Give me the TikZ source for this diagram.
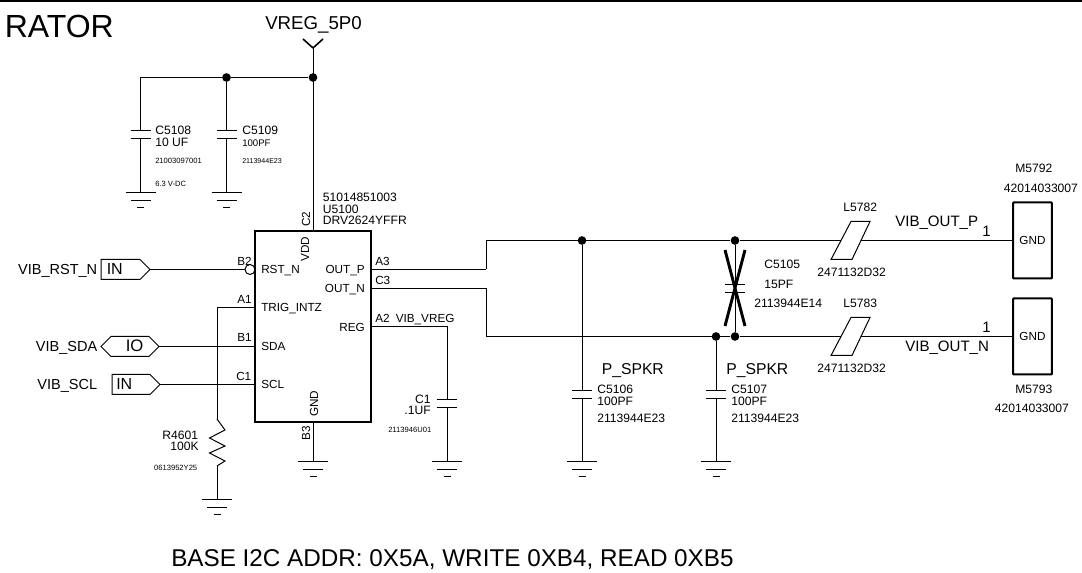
\documentclass[tikz,border=0pt]{standalone}
\usepackage{fontspec}
\setmainfont{Liberation Sans}
\usetikzlibrary{shapes.symbols}

\tikzset{
    x=0.75pt, y=-0.75pt,
    wire/.style={line width=0.75pt},
    lbl/.style={inner sep=0, anchor=base west, font=\fontsize{9.1}{10}\selectfont},
    lblr/.style={inner sep=0, anchor=base east, font=\fontsize{9.1}{10}\selectfont},
    pinlbl/.style={lbl, font=\fontsize{8.8}{10}\selectfont},
    tinylbl/.style={lbl, font=\fontsize{5.7}{7}\selectfont},
    netlbl/.style={lblr, font=\fontsize{10.9}{12}\selectfont},
    port/.style={draw, wire, shape=signal, signal from=nowhere, signal to=east, signal pointer angle=90,
        inner sep=0, outer sep=0, minimum height=15pt, anchor=east},
    junct/.style={circle, fill=black, inner sep=0, minimum size=6.5pt},
    conn/.style={draw, line width=1.5pt, rectangle, rounded corners=0.5pt, inner sep=0, outer sep=0,
        minimum width=29pt, minimum height=57pt, font=\fontsize{8.8}{10}\selectfont},
    capsym/.pic={
        \draw[wire] (-10,0) -- (10,0) (-10,8) -- (10,8);
        \coordinate (-t) at (0,0);
        \coordinate (-b) at (0,8);
    },
    gndsym/.pic={
        \draw[wire] (-15,0) -- (15,0) (-10,8) -- (10,8) (-3.5,15) -- (3.5,15);
        \coordinate (-t) at (0,0);
    },
    ressym/.pic={
        \draw[wire] (0,0) -- (8,11) -- (-7.5,19) -- (8,27) -- (-7.5,34) -- (8,42) -- (0,47);
        \coordinate (-t) at (0,0);
        \coordinate (-b) at (0,47);
    },
    indsym/.pic={
        \draw[wire] (-20,19) -- (0,-19) -- (19,-19) -- (1,19) -- cycle;
        \coordinate (-w) at (-10,0);
        \coordinate (-e) at (10,0);
    },
    dnpsym/.pic={
        \draw[line width=2.2pt] (-10,-38) -- (10,38) (10,-38) -- (-10,38);
    },
}

\begin{document}
\begin{tikzpicture}
    \useasboundingbox (0,0) rectangle (1082,573);

    % frame and headings
    \coordinate (frameL) at (0,0.8);
    \coordinate (frameR) at (1082,0.8);
    \draw[line width=1.2pt] (frameL) -- (frameR);
    \node[lbl, font=\fontsize{24}{26}\selectfont] (title) at (4.5,38) {RATOR};
    \node[lbl, font=\fontsize{18.2}{20}\selectfont] (addr) at (171,566) {BASE I2C ADDR: 0X5A, WRITE 0XB4, READ 0XB5};

    % driver
    \node[draw, line width=1.5pt, rectangle, inner sep=0, minimum width=87pt, minimum height=143.25pt] (u5100) at (313,326.5) {};
    \node[lbl] (u5100pn) at (322.5,202) {51014851003};
    \node[lbl] (u5100ref) at (322.5,214) {U5100};
    \node[lbl] (u5100val) at (322.5,225) {DRV2624YFFR};
    \node[pinlbl, rotate=90] (pinC2) at (310,227) {C2};
    \node[pinlbl, rotate=90] (nameVDD) at (309,262) {VDD};
    \node[pinlbl, rotate=90] (nameGND) at (318,417) {GND};
    \node[pinlbl, rotate=90] (pinB3) at (310,441) {B3};
    \node[pinlbl] (pinB2) at (237,266) {B2};
    \node[pinlbl] (pinA1) at (237,304) {A1};
    \node[pinlbl] (pinB1) at (237,342) {B1};
    \node[pinlbl] (pinC1) at (236,381) {C1};
    \node[pinlbl] (nameRST) at (261,274) {RST\_N};
    \node[pinlbl] (nameTRIG) at (261,312) {TRIG\_INTZ};
    \node[pinlbl] (nameSDA) at (261,351) {SDA};
    \node[pinlbl] (nameSCL) at (261,389) {SCL};
    \node[pinlbl, anchor=base east] (nameOUTP) at (365,274) {OUT\_P};
    \node[pinlbl, anchor=base east] (nameOUTN) at (365,293) {OUT\_N};
    \node[pinlbl, anchor=base east] (nameREG) at (365,332) {REG};
    \node[pinlbl] (pinA3) at (375,266) {A3};
    \node[pinlbl] (pinC3) at (375,285) {C3};
    \node[pinlbl] (pinA2) at (375,323) {A2};
    \node[pinlbl] (vibvreg) at (395.5,323) {VIB\_VREG};

    % supply
    \coordinate (vregtip) at (313,48);
    \coordinate (vregL) at (303,39);
    \coordinate (vregR) at (323,39);
    \node[lbl, font=\fontsize{14}{16}\selectfont] (vreg) at (265,30) {VREG\_5P0};
    \node[junct] (j0) at (313,77.5) {};
    \node[junct] (j1) at (226.5,77.5) {};
    \coordinate (c0) at (140.5,77.5);
    \coordinate (vddpin) at (313,231);
    \coordinate (gndpin) at (313,422);

    \pic (c5108) at (140.5,130.5) {capsym};
    \pic (c5109) at (226.5,130.5) {capsym};
    \pic (g1) at (140.5,192.5) {gndsym};
    \pic (g2) at (226.5,192.5) {gndsym};
    \pic (g3) at (313,461.5) {gndsym};
    \node[lbl] (c5108ref) at (155,135) {C5108};
    \node[lbl] (c5108val) at (155,147) {10 UF};
    \node[tinylbl] (c5108pn) at (155,164) {21003097001};
    \node[tinylbl] (c5108v) at (155,187) {6.3 V-DC};
    \node[lbl] (c5109ref) at (242,135) {C5109};
    \node[lbl, font=\fontsize{7.2}{8}\selectfont] (c5109val) at (242,147) {100PF};
    \node[tinylbl, font=\fontsize{5.3}{7}\selectfont] (c5109pn) at (242,164) {2113944E23};

    % inputs
    \node[port, minimum width=36.75pt] (rstport) at (150,269.5) {};
    \node[port, minimum width=43.5pt, signal to=east and west] (sdaport) at (159,346.5) {};
    \node[port, minimum width=36pt] (sclport) at (160,384.5) {};
    \node[lbl, font=\fontsize{12}{13}\selectfont] (rstdir) at (106.5,275) {IN};
    \node[lbl, font=\fontsize{12.5}{13}\selectfont] (sdadir) at (125.5,352) {IO};
    \node[lbl, font=\fontsize{12}{13}\selectfont] (scldir) at (116,390) {IN};
    \node[netlbl] (rstnet) at (97.5,275) {VIB\_RST\_N};
    \node[netlbl] (sdanet) at (97.5,352) {VIB\_SDA};
    \node[netlbl] (sclnet) at (97.5,390) {VIB\_SCL};
    \node[draw, wire, circle, inner sep=0, outer sep=0, minimum size=7.5pt] (rstbub) at (250,269.5) {};
    \coordinate (sdapin) at (255,346.5);
    \coordinate (sclpin) at (255,384.5);
    \coordinate (trigpin) at (255,307.5);
    \coordinate (trigc) at (217,307.5);

    \pic (r4601) at (217,419) {ressym};
    \pic (g4) at (217,499.5) {gndsym};
    \node[lblr] (r4601ref) at (198.5,440) {R4601};
    \node[lblr] (r4601val) at (199,451) {100K};
    \node[tinylbl, anchor=base east] (r4601pn) at (197.5,470) {0613952Y25};

    % regulator cap
    \coordinate (regpin) at (371,326.5);
    \coordinate (regc) at (447,326.5);
    \pic (c1) at (447,399.5) {capsym};
    \pic (g5) at (447,461.5) {gndsym};
    \node[lblr] (c1ref) at (431,404) {C1};
    \node[lblr] (c1val) at (431,415) {.1UF};
    \node[tinylbl, anchor=base east] (c1pn) at (431.5,433) {2113946U01};

    % output filter
    \coordinate (outp) at (371,269.5);
    \coordinate (outn) at (371,288.5);
    \coordinate (outpa) at (486,269.5);
    \coordinate (outna) at (486,288.5);
    \coordinate (outpb) at (486,240.5);
    \coordinate (outnb) at (486,336.5);
    \node[junct] (j2) at (582,240.5) {};
    \node[junct] (j3) at (735,240.5) {};
    \node[junct] (j4) at (716,336.5) {};
    \node[junct] (j5) at (735,336.5) {};

    \pic (c5105) at (735,284.5) {capsym};
    \pic at (735,288) {dnpsym};
    \pic (c5106) at (582,390.5) {capsym};
    \pic (c5107) at (716,390.5) {capsym};
    \pic (g6) at (582,461.5) {gndsym};
    \pic (g7) at (716,461.5) {gndsym};
    \node[lbl, font=\fontsize{11.8}{13}\selectfont] (spkr0) at (601.5,375) {P\_SPKR};
    \node[lbl, font=\fontsize{11.8}{13}\selectfont] (spkr1) at (726,375) {P\_SPKR};
    \node[lbl] (c5106ref) at (597,394) {C5106};
    \node[lbl] (c5106val) at (597,406) {100PF};
    \node[lbl] (c5106pn) at (597,423) {2113944E23};
    \node[lbl] (c5107ref) at (731,394) {C5107};
    \node[lbl] (c5107val) at (731,406) {100PF};
    \node[lbl] (c5107pn) at (731,423) {2113944E23};
    \node[lbl] (c5105ref) at (764,269) {C5105};
    \node[lbl] (c5105val) at (764,289) {15PF};
    \node[lbl] (c5105pn) at (754,308) {2113944E14};

    \pic (l5782) at (851,240.5) {indsym};
    \pic (l5783) at (851,336.5) {indsym};
    \node[lbl] (l5782ref) at (843,212) {L5782};
    \node[lbl] (l5782pn) at (817,277) {2471132D32};
    \node[lbl] (l5783ref) at (843,308) {L5783};
    \node[lbl] (l5783pn) at (817,373) {2471132D32};

    % vibrator pads
    \node[conn] (m5792) at (1032.5,240.5) {GND};
    \node[conn] (m5793) at (1032.5,336.5) {GND};
    \node[lbl] (m5792ref) at (1015,173) {M5792};
    \node[lbl] (m5792pn) at (1003.5,193) {42014033007};
    \node[lbl] (m5793ref) at (1015,394) {M5793};
    \node[lbl] (m5793pn) at (994.5,413) {42014033007};
    \node[lbl, font=\fontsize{11.3}{13}\selectfont] (outpnet) at (895,227) {VIB\_OUT\_P};
    \node[lbl, font=\fontsize{11.3}{13}\selectfont] (outnnet) at (905,352) {VIB\_OUT\_N};
    \node[lbl, font=\fontsize{11.3}{13}\selectfont] (pad0) at (982,237) {1};
    \node[lbl, font=\fontsize{11.3}{13}\selectfont] (pad1) at (982,333) {1};

    \draw[wire]
        (vregL) edge[line width=1.2pt] (vregtip)
        (vregR) edge[line width=1.2pt] (vregtip)
        (vregtip) edge (vddpin)
        (c0) edge (j1)
        (j1) edge (j0)
        (c0) edge (c5108-t)
        (j1) edge (c5109-t)
        (c5108-b) edge (g1-t)
        (c5109-b) edge (g2-t)
        (gndpin) edge (g3-t)
        (rstport.east) edge (rstbub)
        (sdaport.east) edge (sdapin)
        (sclport.east) edge (sclpin)
        (trigpin) edge (trigc)
        (trigc) edge (r4601-t)
        (r4601-b) edge (g4-t)
        (regpin) edge (regc)
        (regc) edge (c1-t)
        (c1-b) edge (g5-t)
        (outp) edge (outpa)
        (outpa) edge (outpb)
        (outpb) edge (j3)
        (j3) edge (l5782-w)
        (l5782-e) edge (m5792.west)
        (outn) edge (outna)
        (outna) edge (outnb)
        (outnb) edge (j5)
        (j5) edge (l5783-w)
        (l5783-e) edge (m5793.west)
        (j2) edge (c5106-t)
        (j4) edge (c5107-t)
        (c5106-b) edge (g6-t)
        (c5107-b) edge (g7-t)
        (j3) edge (c5105-t)
        (c5105-b) edge (j5)
        ;
\end{tikzpicture}
\end{document}
